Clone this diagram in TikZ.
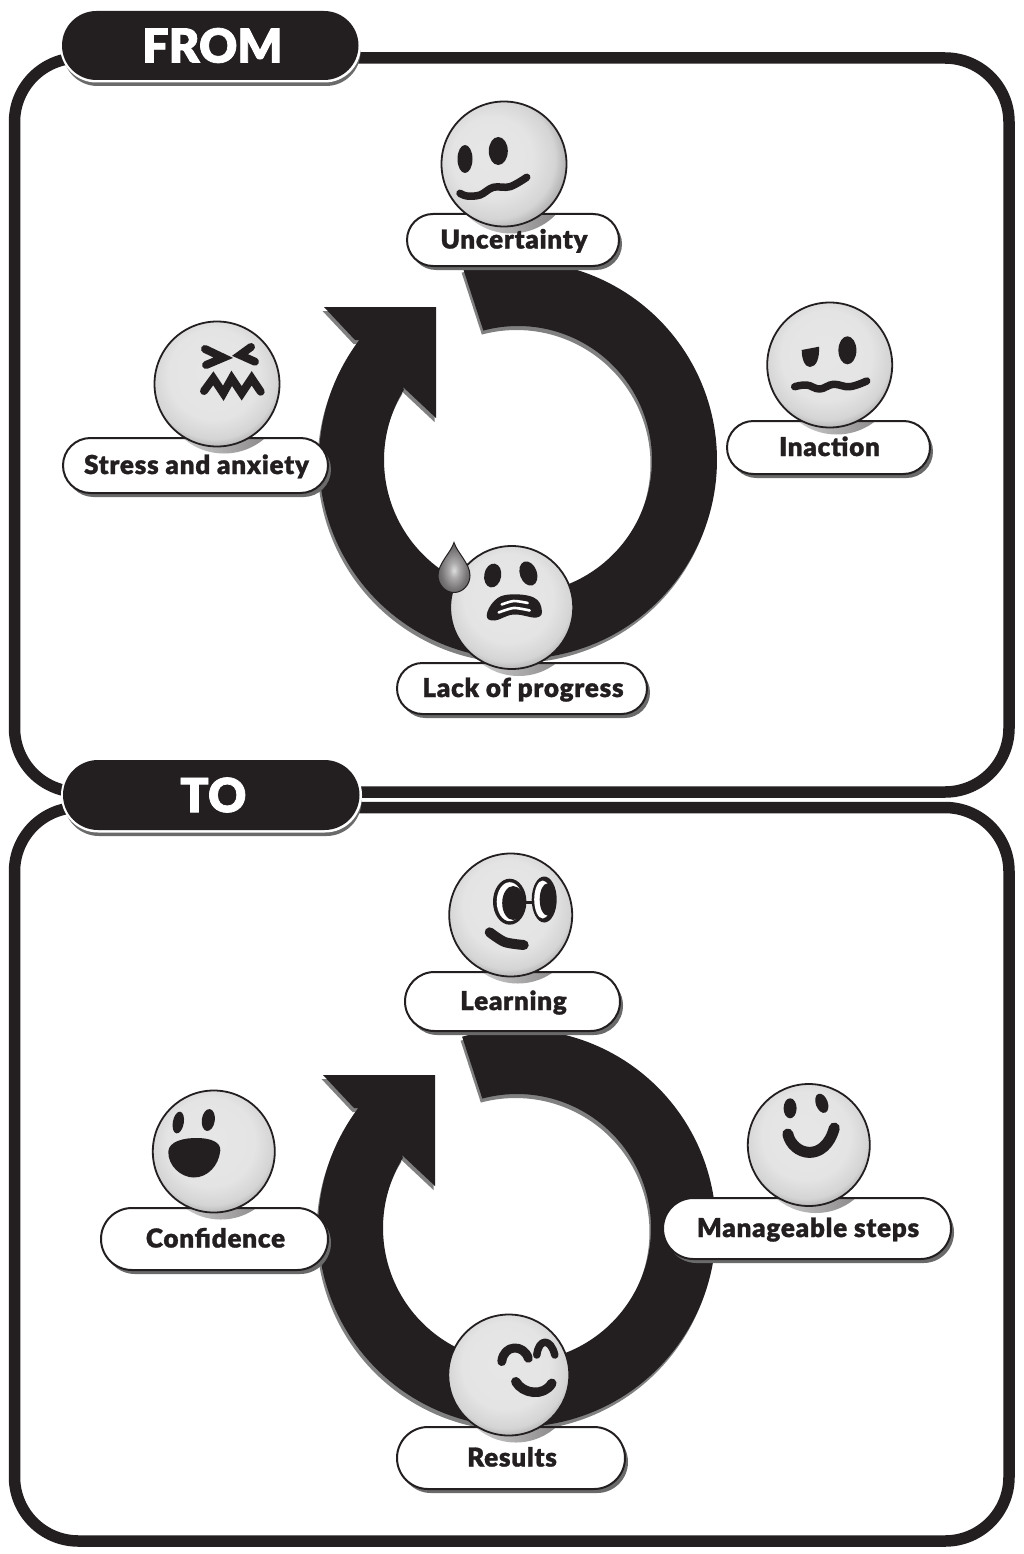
\documentclass[tikz,border=0pt]{standalone}
\usepackage{fontspec}
\usetikzlibrary{calc}
\newfontfamily\labfont{Lato Black}[FakeBold=1.2,LetterSpace=3]
\newfontfamily\headfont{Lato Black}[FakeBold=1.6]
\definecolor{ink}{HTML}{231F20}
\definecolor{shad}{HTML}{808080}
\definecolor{pshad}{HTML}{6A6A6A}
\pgfdeclareradialshading{sphR}{\pgfpoint{-7bp}{4bp}}{color(0bp)=(white!89!ink); color(16bp)=(white!88!ink); color(24bp)=(white!81!ink); color(29bp)=(white!62!ink); color(33bp)=(white!42!ink); color(50bp)=(ink)}
\pgfdeclareradialshading{sphB}{\pgfpoint{-2bp}{6bp}}{color(0bp)=(white!89!ink); color(18bp)=(white!88!ink); color(25bp)=(white!81!ink); color(29bp)=(white!62!ink); color(32bp)=(white!42!ink); color(50bp)=(ink)}
\pgfdeclareradialshading{dropS}{\pgfpoint{0bp}{-3bp}}{color(0bp)=(white!85!ink); color(8bp)=(white!62!ink); color(20bp)=(white!38!ink); color(50bp)=(ink)}
\tikzset{
  frameline/.style={draw=ink,line width=11.5pt,rounded corners=64pt},
  labelbox/.style={draw=ink,line width=2pt,rectangle,inner sep=0pt,text height=17pt,text depth=0pt,font=\labfont\fontsize{26}{28}\selectfont,text=ink},
  headbox/.style={fill=ink,rectangle,inner sep=0pt,font=\headfont\fontsize{47}{50}\selectfont,text=white},
  faceline/.style={draw=ink,line width=7.5pt,line cap=round,line join=round},
}
\newcommand{\pillunit}[9]{%
  \pgfmathsetmacro{\pw}{#4-#2}\pgfmathsetmacro{\ph}{#5-#3}%
  \pgfmathsetmacro{\pr}{\ph/2}%
  \pgfmathsetmacro{\pcx}{(#2+#4)/2}\pgfmathsetmacro{\pcy}{(#3+#5)/2}%
  \fill[pshad,rounded corners=\pr pt] (#2+3,#3+4) rectangle (#4+3,#5+4);
  \fill[white,rounded corners=\pr pt] (#2,#3) rectangle (#4,#5);
  \begin{scope}
    \clip (#2,#3) rectangle (#4,#5);
    \shade[left color=white!85!ink,right color=white!40!ink] (#7+7,#8+7) circle (#9pt);
  \end{scope}
  \node[labelbox,rounded corners=\pr pt,minimum width=\pw pt,minimum height=\ph pt] (#1) at (\pcx,\pcy) {\hspace{2pt}#6};
  \shade[shading=\sph,draw=ink,line width=1.8pt] (#7,#8) circle (#9pt);
}
\newcommand{\ringshape}[1]{%
  \fill[#1] plot[domain=106:-217,samples=160] ({199*cos(\x)},{-199*sin(\x)})
    -- (-163,-120) -- (-194,-153) -- (-82,-153) -- (-82,-42) -- (-115,-73)
    -- plot[domain=-211.6:105,samples=160] ({134*cos(\x)},{-134*sin(\x)}) -- cycle;
}
\newcommand{\headpill}[6]{%
  \pgfmathsetmacro{\pw}{#4-#2}\pgfmathsetmacro{\ph}{#5-#3}%
  \pgfmathsetmacro{\pr}{\ph/2}%
  \pgfmathsetmacro{\pcx}{(#2+#4)/2}\pgfmathsetmacro{\pcy}{(#3+#5)/2}%
  \fill[pshad,rounded corners=\pr pt] (#2+1,#3+5) rectangle (#4+2,#5+6);
  \fill[white,rounded corners=\pr pt+2pt] (#2-2,#3-2) rectangle (#4+2.5,#5+2.5);
  \node[headbox,rounded corners=\pr pt,minimum width=\pw pt,minimum height=\ph pt] (#1) at (\pcx,\pcy) {\hspace{4pt}#6};
}
\begin{document}
\begin{tikzpicture}[x=1pt,y=-1pt]
\useasboundingbox (0,0) rectangle (1023,1554);
\fill[white] (0,0) rectangle (1023,1554);
% frames
\draw[frameline] (14.5,58) rectangle (1009,792);
\draw[frameline] (14.5,807.5) rectangle (1009,1541);
% rings
\begin{scope}[shift={(516.5,464)}]\ringshape{shad}\end{scope}
\begin{scope}[shift={(518,460)}]\ringshape{ink}\end{scope}
\begin{scope}[shift={(515.5,1232)}]\ringshape{shad}\end{scope}
\begin{scope}[shift={(517,1228)}]\ringshape{ink}\end{scope}
% headers
\headpill{fromhead}{62}{11}{358.5}{80}{FROM}
\headpill{tohead}{63}{760}{359.5}{830}{TO}
% ---- FROM units
\def\sph{sphR}
\pillunit{uncertain}{407}{214}{619}{266}{Uncertainty}{504}{164}{62.5}
\begin{scope}[shift={(504,164)}]
  \fill[ink] (-39,-5) ellipse (7.5pt and 14pt);
  \fill[ink] (-5.7,-13) ellipse (9.5pt and 14pt);
  \draw[faceline] plot[smooth,tension=0.6] coordinates {(-44,29.3) (-37,32) (-24,31) (-10.7,23.3) (6,22.7) (22.7,13.3)};
\end{scope}
\def\sph{sphB}
\pillunit{inaction}{727}{421}{930}{474}{Inaction}{829.7}{365}{62.5}
\begin{scope}[shift={(829.7,365)}]
  \fill[ink] (-28,-15) -- (-10.7,-18.3) .. controls (-10,-8) and (-13,2) .. (-19.7,2) .. controls (-25,2) and (-28,-6) .. cycle;
  \fill[ink] (17.7,-14.7) ellipse (9pt and 14pt);
  \draw[faceline] plot[smooth,tension=0.7] coordinates {(-35,21.7) (-23,20) (-10,24) (3.7,19.3) (20,21.7) (37,16)};
\end{scope}
\pillunit{lack}{397}{663}{647}{714}{Lack of progress}{511.7}{607.5}{61.5}
\begin{scope}[shift={(511.7,607.5)}]
  \fill[ink,rotate around={-10:(-19,-32)}] (-19,-32) ellipse (8.5pt and 12pt);
  \fill[ink,rotate around={20:(16.7,-34)}] (16.7,-34) ellipse (8.5pt and 12.5pt);
  \fill[ink] plot[smooth cycle,tension=0.7] coordinates {(-25,8) (-17,-7) (-2,-13) (22,-10) (30,2) (25,10) (2,7) (-17,13)};
  \draw[white,line width=2.6pt,line cap=round] plot[smooth] coordinates {(-10,-3) (2,-6.5) (16,-4.5)};
  \draw[white,line width=2.6pt,line cap=round] plot[smooth] coordinates {(-13,5) (2,0.5) (18,3)};
  \begin{scope}[shift={(-57.7,-32)}]
    \path[shading=dropS,draw=ink,line width=1pt] (0,-33) .. controls (3,-23) and (16,-12) .. (16,0) .. controls (16,9) and (9,17) .. (0,17) .. controls (-9,17) and (-16,9) .. (-16,0) .. controls (-16,-12) and (-3,-23) .. (0,-33) -- cycle;
  \end{scope}
\end{scope}
\pillunit{stress}{63}{438}{328}{493}{Stress and anxiety}{217}{384}{62.5}
\begin{scope}[shift={(217,384)}]
  \draw[faceline,line width=8pt,line join=miter] (-12,-35) -- (6.3,-26.3) -- (-11,-19);
  \draw[faceline,line width=8pt,line join=miter] (34,-37) -- (23,-29) -- (38,-22.3);
  \draw[faceline,line width=8pt,line join=miter] (-13,7) -- (-3.7,-5.7) -- (6.3,9.3) -- (14.7,-5.7) -- (24.7,9.3) -- (34.7,-5.7) -- (43.7,7.7);
\end{scope}
% ---- TO units
\pillunit{learning}{405}{972}{620}{1031}{Learning}{510.7}{915}{61.5}
\begin{scope}[shift={(510.7,915)}]
  \draw[ink,line width=3pt] (12.7,-13) -- (22,-13);
  \fill[ink] (-1,-13.3) ellipse (16.7pt and 23pt);
  \fill[white] (-1,-13.3) ellipse (13pt and 19.5pt);
  \fill[ink] (2.5,-12) ellipse (11pt and 17pt);
  \fill[ink] (33.5,-15.5) ellipse (12.5pt and 23pt);
  \fill[white] (32,-15.5) ellipse (8.5pt and 19pt);
  \fill[ink] (36.5,-15.5) ellipse (7.5pt and 16pt);
  \draw[faceline,line width=10pt] plot[smooth] coordinates {(-21,17.3) (-6,27) (13,30)};
\end{scope}
\pillunit{confidence}{101}{1208}{328}{1270}{Confidence}{213.8}{1151.5}{61}
\begin{scope}[shift={(213.8,1151.5)}]
  \fill[ink,rotate around={-10:(-35.5,-29)}] (-35.5,-29) ellipse (5.5pt and 11pt);
  \fill[ink,rotate around={-8:(-5.5,-31.5)}] (-5.5,-31.5) ellipse (6.5pt and 11pt);
  \fill[ink] (-45.5,0) .. controls (-45,-10) and (-30,-14) .. (-15,-13.5) .. controls (-2,-13) and (7,-9) .. (6.5,-1) .. controls (5,14) and (-6,26) .. (-20,26) .. controls (-33,26) and (-46,14) .. cycle;
\end{scope}
\pillunit{manageable}{663}{1198}{951}{1259}{Manageable steps}{808.8}{1145}{61}
\begin{scope}[shift={(808.8,1145)}]
  \fill[ink] (-18.7,-36.7) ellipse (6.5pt and 10pt);
  \fill[ink,rotate around={20:(13,-41.7)}] (13,-41.7) ellipse (6pt and 10pt);
  \draw[faceline,line width=11pt] (-21,-11) .. controls (-16,11) and (16,18) .. (25.5,-17);
\end{scope}
\pillunit{results}{397}{1427}{625}{1489}{Results}{508.8}{1375}{60.5}
\begin{scope}[shift={(508.8,1375)}]
  \draw[faceline,line width=9pt] (-7,-13.5) .. controls (-5,-31) and (15,-31) .. (19.5,-16.7);
  \draw[faceline,line width=7.5pt] (28,-20) .. controls (30,-37) and (42,-37) .. (46,-20);
  \draw[faceline,line width=9.5pt] (7,6.7) .. controls (14,19) and (35,22) .. (43,8.3);
\end{scope}
\end{tikzpicture}
\end{document}
